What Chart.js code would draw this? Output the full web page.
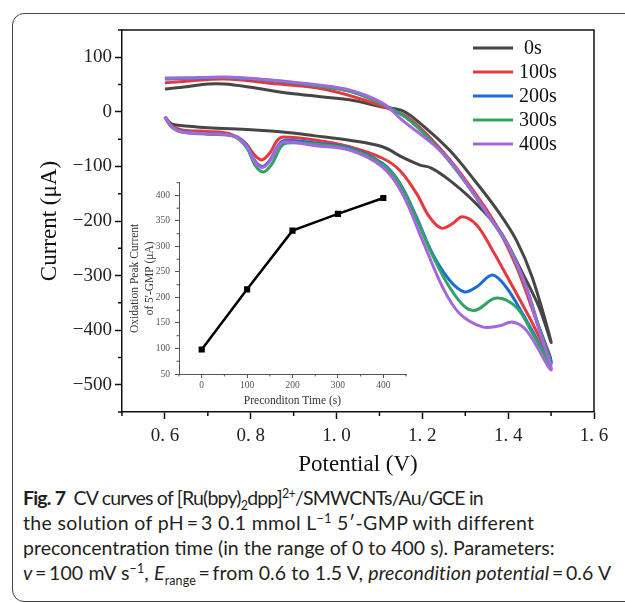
<!DOCTYPE html>
<html>
<head>
<meta charset="utf-8">
<script src="https://cdn.jsdelivr.net/npm/chart.js@4"></script>
<style>
  body { margin: 0; background: #fff; width: 625px; height: 603px; overflow: hidden; position: relative; }
  #frame { position: absolute; left: 12px; top: 13px; width: 660px; height: 589px; box-sizing: border-box;
           border: 1.5px solid #444; border-radius: 12px; }
  #cv { position: absolute; left: 0; top: 0; }
  #inset { position: absolute; left: 120px; top: 172px; }
  #caption { position: absolute; left: 23px; top: 485px; font-family: Lato, "Noto Sans", sans-serif;
             font-size: 19.5px; line-height: 25px; color: #231f20; white-space: nowrap; }
  #caption sup, #caption sub { font-size: 12.5px; line-height: 0; }
  #caption .l1 { letter-spacing: -0.8px; }
  #caption .l2 { letter-spacing: 0.35px; }
  #caption .l4 { letter-spacing: 0.12px; }
</style>
</head>
<body>
<div id="frame"></div>
<canvas id="cv" width="625" height="480"></canvas>
<canvas id="inset" width="300" height="240"></canvas>
<div id="caption">
  <span class="l1"><b>Fig. 7</b>&nbsp; CV curves of [Ru(bpy)<sub>2</sub>dpp]<sup>2+</sup>/SMWCNTs/Au/GCE in</span><br>
  <span class="l2">the solution of pH&#8201;=&#8201;3 0.1 mmol L<sup>&minus;1</sup> 5&prime;-GMP with different</span><br>
  preconcentration time (in the range of 0 to 400 s). Parameters:<br>
  <span class="l4"><i>v</i>&#8201;=&#8201;100 mV s<sup>&minus;1</sup>, <i>E</i><sub>range</sub>&#8201;=&#8201;from 0.6 to 1.5 V, <i>precondition potential</i>&#8201;=&#8201;0.6 V</span>
</div>
<script>
// CV loops: forward scan 0.6 -> 1.5 V, then reverse back to 0.6 V
const labels = [' 0s', '100s', '200s', '300s', '400s'];
const colors = ['#464646', '#e8383d', '#1b6dd6', '#2fa463', '#a468dc'];

const e0 = [0.600,0.615,0.635,0.70,0.80,0.874,0.95,1.03,1.107,1.153,1.193,1.221,1.263,1.316,1.379,1.433,1.472,1.500,
            1.456,1.419,1.379,1.326,1.263,1.186,1.150,1.107,1.03,0.90,0.80,0.74,0.70,0.65,0.60];
const i0 = [-9,-22,-25,-29,-33,-37,-44,-52,-64,-83,-97,-103,-125,-161,-216,-295,-358,-422,
            -303,-235,-185,-130,-70,-15,3,9,22,33,45,51,51,46,42];

const e1 = [0.600,0.615,0.64,0.70,0.75,0.785,0.81,0.826,0.845,0.862,0.876,0.953,1.03,1.107,1.147,1.186,1.216,1.244,1.27,1.293,1.326,1.363,1.402,1.449,1.500,
            1.46,1.42,1.37,1.31,1.25,1.17,1.107,1.03,0.953,0.85,0.74,0.65,0.60];
const i1 = [-9,-25,-33,-36,-40,-55,-80,-88,-75,-52,-46,-52,-64,-85,-107,-149,-192,-213,-205,-192,-207,-253,-308,-376,-455,
            -370,-285,-205,-135,-75,-12,10,30,44,52,60,56,53];

const e2 = [0.600,0.615,0.64,0.70,0.76,0.79,0.81,0.828,0.845,0.865,0.88,0.95,1.03,1.107,1.147,1.186,1.223,1.263,1.298,1.326,1.363,1.395,1.433,1.500,
            1.47,1.442,1.402,1.356,1.302,1.247,1.17,1.107,1.03,0.95,0.85,0.74,0.65,0.60];
const i2 = [-9,-27,-36,-40,-44,-60,-90,-100,-88,-60,-52,-57,-66,-94,-130,-192,-259,-308,-330,-321,-299,-321,-369,-460,
            -390,-321,-248,-192,-130,-75,-15,14,38,48,57,63,61,60];

const e3 = [0.600,0.615,0.64,0.70,0.76,0.79,0.81,0.83,0.85,0.87,0.885,0.95,1.03,1.107,1.147,1.186,1.223,1.263,1.30,1.326,1.372,1.419,1.456,1.500,
            1.47,1.442,1.402,1.356,1.302,1.247,1.17,1.107,1.03,0.95,0.85,0.74,0.65,0.60];
const i3 = [-9,-27,-37,-41,-45,-65,-98,-110,-95,-64,-57,-59,-68,-96,-132,-195,-262,-321,-358,-363,-341,-358,-405,-464,
            -392,-322,-249,-193,-131,-76,-15,14,38,48,58,63,62,61];

const e4 = [0.600,0.615,0.64,0.70,0.76,0.79,0.81,0.828,0.845,0.865,0.88,0.95,1.03,1.107,1.153,1.20,1.247,1.286,1.34,1.38,1.409,1.442,1.500,
            1.47,1.442,1.402,1.356,1.302,1.247,1.153,1.107,1.03,0.95,0.85,0.74,0.65,0.60];
const i4 = [-9,-27,-37,-40,-44,-62,-92,-102,-90,-62,-55,-62,-70,-101,-149,-235,-321,-369,-394,-392,-385,-400,-473,
            -395,-321,-248,-192,-130,-75,-15,16,40,50,58,64,62,62];

const xTicks = [0.6, 0.8, 1.0, 1.2, 1.4, 1.6];
const xMinor = [0.5, 0.7, 0.9, 1.1, 1.3, 1.5];
const yTicks = [100, 0, -100, -200, -300, -400, -500];
const yMinor = [150, 50, -50, -150, -250, -350, -450, -550];

// inset: oxidation peak current vs preconcentration time
const insetTime = [0, 100, 200, 300, 400];
const insetPeak = [98, 216, 331, 364, 395];
const insetXTicks = [0, 100, 200, 300, 400];
const insetXMinor = [-50, 50, 150, 250, 350, 450];
const insetYTicks = [50, 100, 150, 200, 250, 300, 350, 400];
const insetYMinor = [75, 125, 175, 225, 275, 325, 375, 425];

const potentials = [e0, e1, e2, e3, e4];
const currents = [i0, i1, i2, i3, i4];

const serif = 'Liberation Serif';
const minus = v => (v < 0 ? '\u2212' + Math.abs(v) : String(v));

// minor ticks + optional plot box
const minorTicks = {
  id: 'minor',
  afterDraw(chart, args, opts) {
    const ctx = chart.ctx, a = chart.chartArea;
    const xs = chart.scales.x, ys = chart.scales.y;
    ctx.save();
    ctx.strokeStyle = opts.color;
    ctx.lineWidth = opts.width;
    ctx.beginPath();
    opts.x.forEach(v => {
      const px = xs.getPixelForValue(v);
      ctx.moveTo(px, a.bottom); ctx.lineTo(px, a.bottom + opts.len);
    });
    opts.y.forEach(v => {
      const py = ys.getPixelForValue(v);
      ctx.moveTo(a.left, py); ctx.lineTo(a.left - opts.len, py);
    });
    ctx.stroke();
    if (opts.box) {
      ctx.beginPath();
      ctx.moveTo(a.left, a.top); ctx.lineTo(a.right, a.top); ctx.lineTo(a.right, a.bottom);
      ctx.stroke();
    }
    ctx.restore();
  }
};

// legend drawn inside the plot, top right
const innerLegend = {
  id: 'innerLegend',
  afterDraw(chart) {
    const ctx = chart.ctx, a = chart.chartArea;
    ctx.save();
    ctx.font = '20px "' + serif + '"';
    ctx.textBaseline = 'middle';
    ctx.fillStyle = '#111';
    chart.data.datasets.forEach((ds, i) => {
      const y = a.top + 18 + i * 24;
      ctx.strokeStyle = ds.borderColor;
      ctx.lineWidth = 3;
      ctx.beginPath();
      ctx.moveTo(a.right - 121, y); ctx.lineTo(a.right - 81, y);
      ctx.stroke();
      ctx.fillText(ds.label, a.right - 75, y + 1);
    });
    ctx.restore();
  }
};

new Chart(document.getElementById('cv'), {
  type: 'scatter',
  data: {
    datasets: labels.map((lab, k) => ({
      label: lab,
      data: potentials[k].map((e, j) => ({ x: e, y: currents[k][j] })),
      showLine: true,
      borderColor: colors[k],
      borderWidth: 3,
      pointRadius: 0,
      tension: 0.35,
      order: 5 - k
    }))
  },
  options: {
    responsive: false,
    animation: false,
    layout: { padding: { top: 30, right: 31, left: 0, bottom: 0 } },
    plugins: {
      legend: { display: false },
      tooltip: { enabled: false },
      minor: { x: xMinor, y: yMinor, len: 4, color: '#111', width: 1.5, box: true }
    },
    scales: {
      x: {
        type: 'linear', min: 0.5, max: 1.6,
        afterBuildTicks: s => { s.ticks = xTicks.map(v => ({ value: v })); },
        afterFit: s => { s.height = 68; },
        grid: { drawOnChartArea: false, tickLength: 7, tickWidth: 1.5, tickColor: '#111' },
        border: { color: '#111', width: 1.5 },
        ticks: { autoSkip: false, maxRotation: 0, padding: 5.5, color: '#222',
                 font: { family: serif, size: 19 },
                 callback: v => v.toFixed(1).replace('.', '. ') },
        title: { display: true, text: 'Potential (V)', color: '#111',
                 font: { family: serif, size: 23 }, padding: { top: 0, bottom: 1.2 } }
      },
      y: {
        type: 'linear', min: -550, max: 150,
        afterBuildTicks: s => { s.ticks = yTicks.map(v => ({ value: v })); },
        afterFit: s => { s.width = 122; },
        grid: { drawOnChartArea: false, tickLength: 7, tickWidth: 1.5, tickColor: '#111' },
        border: { color: '#111', width: 1.5 },
        ticks: { autoSkip: false, padding: 3, color: '#222',
                 font: { family: serif, size: 19 }, callback: v => minus(v) },
        title: { display: true, text: 'Current (\u03bcA)', color: '#111',
                 font: { family: serif, size: 23 }, padding: { top: 36, bottom: 0 } }
      }
    }
  },
  plugins: [minorTicks, innerLegend]
});

new Chart(document.getElementById('inset'), {
  type: 'line',
  data: {
    datasets: [{
      data: insetTime.map((t, j) => ({ x: t, y: insetPeak[j] })),
      borderColor: '#000',
      backgroundColor: '#000',
      borderWidth: 2.5,
      pointStyle: 'rect',
      pointRadius: 2.6,
      tension: 0
    }]
  },
  options: {
    responsive: false,
    animation: false,
    layout: { padding: { top: 10, right: 14, left: 0, bottom: 0 } },
    plugins: {
      legend: { display: false },
      tooltip: { enabled: false },
      minor: { x: insetXMinor, y: insetYMinor, len: 2.5, color: '#555', width: 1, box: false }
    },
    scales: {
      x: {
        type: 'linear', min: -50, max: 450,
        afterBuildTicks: s => { s.ticks = insetXTicks.map(v => ({ value: v })); },
        afterFit: s => { s.height = 38; },
        grid: { drawOnChartArea: false, tickLength: 4, tickColor: '#555' },
        border: { color: '#555', width: 1 },
        ticks: { autoSkip: false, maxRotation: 0, padding: 2, color: '#555',
                 font: { family: serif, size: 9.5 } },
        title: { display: true, text: 'Preconditon Time (s)', color: '#333',
                 font: { family: serif, size: 11.5 }, padding: { top: 0, bottom: 4 } }
      },
      y: {
        type: 'linear', min: 50, max: 425,
        afterBuildTicks: s => { s.ticks = insetYTicks.map(v => ({ value: v })); },
        afterFit: s => { s.width = 59; },
        grid: { drawOnChartArea: false, tickLength: 4, tickColor: '#555' },
        border: { color: '#555', width: 1 },
        ticks: { autoSkip: false, padding: 5, color: '#555',
                 font: { family: serif, size: 9.5 } },
        title: { display: true, text: ['Oxidation Peak Current', "of 5'-GMP (\u03bcA)"], color: '#333',
                 font: { family: serif, size: 11.5, lineHeight: 1.3 }, padding: { top: 7.5, bottom: 0 } }
      }
    }
  },
  plugins: [minorTicks]
});
</script>
</body>
</html>
